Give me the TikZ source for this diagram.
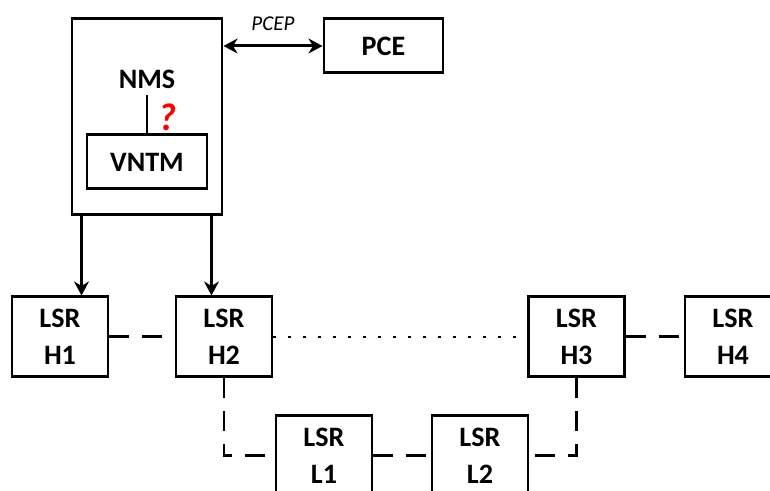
\documentclass[tikz,border=0pt]{standalone}
\usepackage{fontspec}
\setmainfont{Carlito}
\usetikzlibrary{arrows.meta}

\begin{document}
\begin{tikzpicture}[
    box/.style={rectangle, draw=black, line width=1.7pt, align=center, font=\bfseries\fontsize{16}{21}\selectfont},
    lsr/.style={box, minimum width=1.92cm, minimum height=1.6cm},
    arrow/.style={-{Stealth[length=8pt,width=8.5pt]}, line width=1.7pt},
    biarrow/.style={{Stealth[length=8pt,width=8.5pt]}-{Stealth[length=8pt,width=8.5pt]}, line width=1.7pt},
    link/.style={line width=1.7pt, dash pattern=on 0.4cm off 0.26cm},
    far/.style={line width=1.3pt, dash pattern=on 0.05cm off 0.25cm}
  ]
  \useasboundingbox (0,0) rectangle (15.4,9.82);
  \clip (0,0) rectangle (15.4,9.82);

  % management side
  \node[box, minimum width=3cm, minimum height=3.92cm] (nms) at (2.94,7.48) {};
  \node[font=\bfseries\fontsize{16}{21}\selectfont] (nmstext) at (2.94,8.24) {NMS};
  \node[box, minimum width=2.4cm, minimum height=1.08cm] (vntm) at (2.94,6.58) {VNTM};
  \node[text=red, font=\bfseries\itshape\fontsize{22}{24}\selectfont] (query) at (3.34,7.48) {?};
  \node[box, minimum width=2.38cm, minimum height=1.08cm] (pce) at (7.67,8.9) {PCE};
  \node[font=\itshape\fontsize{12}{14}\selectfont] (pcep) at (5.46,9.34) {PCEP};

  % routers
  \node[lsr] (h1) at (1.2,3.08) {LSR\\H1};
  \node[lsr] (h2) at (4.48,3.08) {LSR\\H2};
  \node[lsr] (h3) at (11.53,3.08) {LSR\\H3};
  \node[lsr] (h4) at (14.66,3.08) {LSR\\H4};
  \node[lsr] (l1) at (6.48,0.7) {LSR\\L1};
  \node[lsr] (l2) at (9.6,0.7) {LSR\\L2};

  \draw[biarrow] (nms.east |- pce.west) -- (pce.west);
  \draw[line width=1.7pt] (nmstext.south) -- (vntm.north);
  \draw[arrow] ([xshift=0.22cm]nms.south west) -- ([xshift=0.22cm]nms.south west |- h1.north);
  \draw[arrow] ([xshift=-0.24cm]nms.south east) -- ([xshift=-0.24cm]nms.south east |- h2.north);

  \draw[link] (h1.east) -- (h2.west);
  \draw[far] (h2.east) -- (h3.west);
  \draw[link] (h3.east) -- (h4.west);
  \draw[link] (h2.south) |- (l1.west);
  \draw[link] (l1.east) -- (l2.west);
  \draw[link] (h3.south) |- (l2.east);

\end{tikzpicture}
\end{document}
